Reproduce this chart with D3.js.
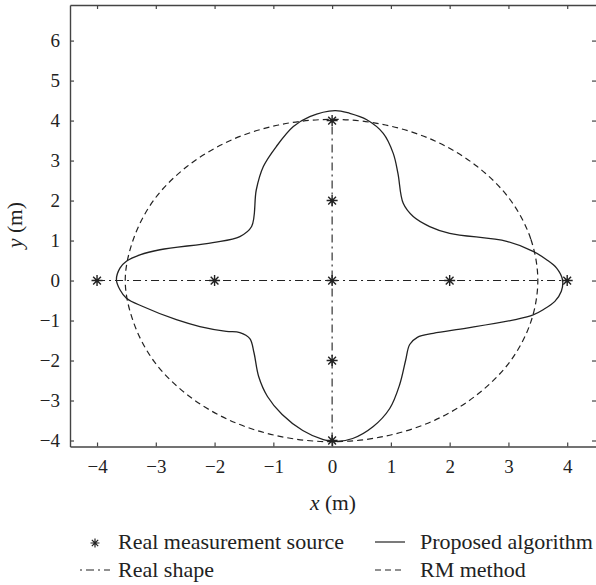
<!DOCTYPE html>
<html>
<head>
<meta charset="utf-8">
<script src="https://cdn.jsdelivr.net/npm/d3@7"></script>
<style>
  body { margin: 0; background: #fff; }
  text { font-family: "Liberation Serif", "DejaVu Serif", serif; fill: #222; }
</style>
</head>
<body>
<script>
// measurement sources (stars)
var sourceX = [-4, -2, 0, 2, 4, 0, 0, 0, 0];
var sourceY = [0, 0, 0, 0, 0, 4, 2, -2, -4];

// real shape: a cross, two segments
var realShape = [
  [[-4, 0], [4, 0]],
  [[0, -4], [0, 4]]
];

// proposed algorithm contour
var propX = [0.05, 0.30, 0.59, 0.87, 1.04, 1.12, 1.21, 1.38, 1.66, 2.00, 2.97, 3.42, 3.65, 3.82, 3.92,
  3.90, 3.79, 3.59, 3.42, 3.14, 2.29, 1.72, 1.45, 1.32, 1.25, 1.15, 0.98, 0.70, 0.35, 0.05,
  -0.15, -0.50, -0.85, -1.10, -1.25, -1.33, -1.40, -1.57, -1.80, -2.25, -2.65, -3.22, -3.50, -3.61,
  -3.67, -3.61, -3.50, -3.27, -2.93, -2.03, -1.57, -1.37, -1.29, -1.17, -0.95, -0.66, -0.38];
var propY = [4.25, 4.18, 4.02, 3.68, 3.18, 2.68, 1.93, 1.60, 1.35, 1.18, 0.98, 0.73, 0.52, 0.31, 0.02,
  -0.27, -0.52, -0.73, -0.86, -0.97, -1.19, -1.32, -1.42, -1.60, -2.00, -2.60, -3.20, -3.65, -3.95, -4.03,
  -3.98, -3.75, -3.35, -2.90, -2.40, -1.80, -1.45, -1.30, -1.27, -1.15, -0.98, -0.65, -0.44, -0.23,
  0.02, 0.31, 0.48, 0.64, 0.77, 0.95, 1.10, 1.35, 2.27, 2.85, 3.35, 3.85, 4.10];

// RM method contour
var rmX = [3.50, 3.38, 3.03, 2.47, 1.75, 0.91, 0, -0.91, -1.75, -2.47, -3.03, -3.38,
  -3.52, -3.38, -3.03, -2.47, -1.75, -0.91, 0, 0.91, 1.75, 2.47, 3.03, 3.38];
var rmY = [0, 1.04, 2.02, 2.85, 3.49, 3.89, 4.03, 3.89, 3.49, 2.85, 2.02, 1.04,
  0, -1.04, -2.02, -2.85, -3.49, -3.89, -4.03, -3.89, -3.49, -2.85, -2.02, -1.04];

var xTicks = [-4, -3, -2, -1, 0, 1, 2, 3, 4];
var yTicks = [-4, -3, -2, -1, 0, 1, 2, 3, 4, 5, 6];

var legendLabels = ["Real measurement source", "Proposed algorithm", "Real shape", "RM method"];

var W = 596, H = 585;
var pLeft = 70, pRight = 597, pTop = 5, pBottom = 446.5;

var svg = d3.select("body").append("svg")
  .attr("width", W)
  .attr("height", H);

var x = d3.scaleLinear().domain([-4.46, 4.507]).range([pLeft, pRight]);
var y = d3.scaleLinear().domain([-4.15, 6.89]).range([pBottom, pTop]);

var ink = "#222";

// axes, ticks pointing inward
function styleAxis(g) {
  g.select(".domain").attr("stroke", "#444").attr("stroke-width", 1.4);
  g.selectAll(".tick line").attr("stroke", "#444").attr("stroke-width", 1.2);
  g.selectAll(".tick text").style("font-family", '"Liberation Serif", serif')
    .style("font-size", "19px").attr("fill", "#333");
}

svg.append("g")
  .attr("transform", "translate(0," + pBottom + ")")
  .call(d3.axisBottom(x).tickValues(xTicks).tickSizeInner(-4).tickSizeOuter(0).tickPadding(13))
  .call(styleAxis);
svg.append("g")
  .attr("transform", "translate(0," + pTop + ")")
  .call(d3.axisTop(x).tickValues(xTicks).tickSizeInner(-4).tickSizeOuter(0).tickFormat(""))
  .call(styleAxis);
svg.append("g")
  .attr("transform", "translate(" + pLeft + ",0)")
  .call(d3.axisLeft(y).tickValues(yTicks).tickSizeInner(-4).tickSizeOuter(0).tickPadding(10))
  .call(styleAxis);
svg.append("g")
  .attr("transform", "translate(" + pRight + ",0)")
  .call(d3.axisRight(y).tickValues(yTicks).tickSizeInner(-5).tickSizeOuter(0).tickFormat(""))
  .call(styleAxis);

// axis labels
var xl = svg.append("text")
  .attr("x", 333).attr("y", 510)
  .attr("text-anchor", "middle")
  .style("font-size", "21.5px");
xl.append("tspan").style("font-style", "italic").text("x");
xl.append("tspan").text(" (m)");

var yl = svg.append("text")
  .attr("transform", "translate(22,225) rotate(-90)")
  .attr("text-anchor", "middle")
  .style("font-size", "21.5px");
yl.append("tspan").style("font-style", "italic").text("y");
yl.append("tspan").text(" (m)");

var line = d3.line().x(function(d) { return x(d[0]); }).y(function(d) { return y(d[1]); });

// RM method (dashed)
var rm = rmX.map(function(v, i) { return [v, rmY[i]]; });
svg.append("path")
  .attr("d", line.curve(d3.curveCatmullRomClosed)(rm))
  .attr("fill", "none").attr("stroke", ink).attr("stroke-width", 1.2)
  .attr("stroke-dasharray", "6,4");

// real shape (dash-dot)
realShape.forEach(function(seg) {
  svg.append("path")
    .attr("d", line.curve(d3.curveLinear)(seg))
    .attr("fill", "none").attr("stroke", ink).attr("stroke-width", 1.1)
    .attr("stroke-dasharray", "8,4,2,4");
});

// proposed algorithm (solid)
var prop = propX.map(function(v, i) { return [v, propY[i]]; });
svg.append("path")
  .attr("d", line.curve(d3.curveCatmullRomClosed)(prop))
  .attr("fill", "none").attr("stroke", ink).attr("stroke-width", 1.3);

// asterisk marker
function star(cx, cy, r) {
  var p = "";
  [0, 45, 90, 135].forEach(function(a) {
    var t = a * Math.PI / 180, dx = r * Math.cos(t), dy = r * Math.sin(t);
    p += "M" + (cx - dx) + "," + (cy - dy) + "L" + (cx + dx) + "," + (cy + dy);
  });
  return p;
}

svg.selectAll(".src")
  .data(sourceX).enter()
  .append("path")
  .attr("class", "src")
  .attr("d", function(d, i) { return star(x(d), y(sourceY[i]), 5.5); })
  .attr("stroke", ink).attr("stroke-width", 1.4).attr("fill", "none");

// legend
var lg = svg.append("g").style("font-size", "22px");
lg.append("path").attr("d", star(95, 543, 4.5)).attr("stroke", ink).attr("stroke-width", 1.2);
lg.append("line").attr("x1", 375).attr("x2", 405).attr("y1", 542).attr("y2", 542)
  .attr("stroke", ink).attr("stroke-width", 1.2);
lg.append("line").attr("x1", 80).attr("x2", 110).attr("y1", 570).attr("y2", 570)
  .attr("stroke", ink).attr("stroke-width", 1.1).attr("stroke-dasharray", "2,4,8,4");
lg.append("line").attr("x1", 375).attr("x2", 405).attr("y1", 570).attr("y2", 570)
  .attr("stroke", ink).attr("stroke-width", 1.2).attr("stroke-dasharray", "6,4");
var lpos = [[118, 549], [420, 549], [118, 577], [420, 577]];
lg.selectAll("text.lt")
  .data(legendLabels).enter()
  .append("text").attr("class", "lt")
  .attr("x", function(d, i) { return lpos[i][0]; })
  .attr("y", function(d, i) { return lpos[i][1]; })
  .text(function(d) { return d; });
</script>
</body>
</html>
